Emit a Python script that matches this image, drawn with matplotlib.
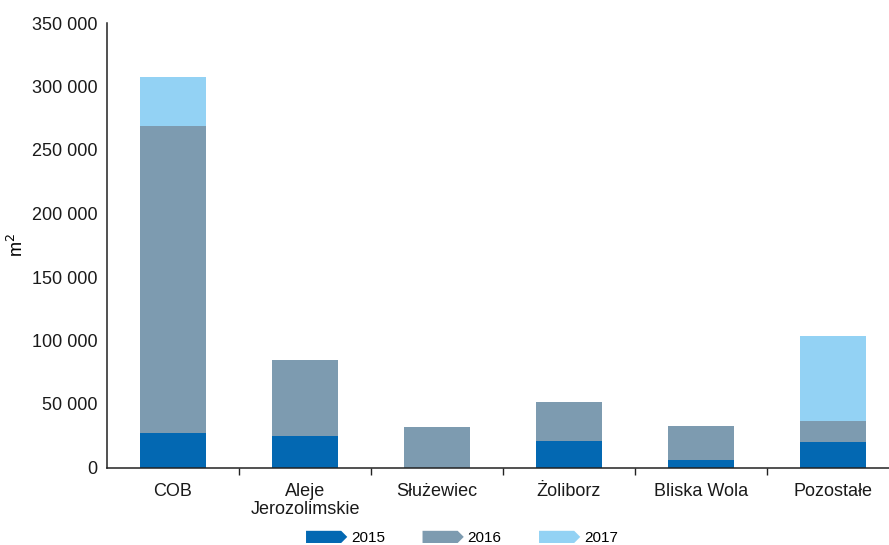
import matplotlib
matplotlib.use("Agg")
import matplotlib.pyplot as plt
import matplotlib.patches as mpatches
from matplotlib.legend_handler import HandlerPatch
from matplotlib.ticker import FuncFormatter, FixedLocator
import numpy as np

plt.rcParams['font.family'] = ['Liberation Sans', 'DejaVu Sans']

# powierzchnia biurowa wg lokalizacji (m2)
districts = ['COB', 'Aleje\nJerozolimskie', 'Służewiec', 'Żoliborz', 'Bliska Wola', 'Pozostałe']
years = ['2015', '2016', '2017']
y2015 = [27000, 24700, 0, 21000, 6000, 19900]
y2016 = [241800, 60200, 31800, 30800, 26900, 16600]
y2017 = [38400, 0, 0, 0, 0, 67000]
colors = ['#0368B2', '#7D9BB0', '#93D2F4']


class ArrowHandler(HandlerPatch):
    # strzalka w legendzie zamiast prostokata
    def create_artists(self, legend, orig_handle, xdescent, ydescent,
                       width, height, fontsize, trans):
        tip = height * 0.5
        pts = [(-xdescent, -ydescent),
               (-xdescent + width - tip, -ydescent),
               (-xdescent + width, -ydescent + height / 2),
               (-xdescent + width - tip, -ydescent + height),
               (-xdescent, -ydescent + height)]
        p = mpatches.Polygon(pts, closed=True, facecolor=orig_handle.get_facecolor(),
                             edgecolor='none', transform=trans)
        return [p]


fig = plt.figure(figsize=(8.89, 5.45), dpi=100)
ax = fig.add_axes([107 / 889, 77.5 / 545, 792 / 889, 444.5 / 545])

x = np.arange(len(districts))
bottom = np.zeros(len(districts))
for vals, col in zip([y2015, y2016, y2017], colors):
    ax.bar(x, vals, width=0.5, bottom=bottom, color=col, linewidth=0)
    bottom += np.array(vals)

ax.set_xlim(-0.5, len(districts) - 0.5)
ax.set_ylim(0, 350000)
ax.set_yticks(np.arange(0, 350001, 50000))
ax.yaxis.set_major_formatter(FuncFormatter(lambda v, p: f"{int(v):,}".replace(',', ' ')))
ax.tick_params(axis='y', length=0, pad=7, labelsize=13, colors='#1a1a1a')

ax.set_xticks(x)
ax.set_xticklabels(districts, fontsize=13, linespacing=1.1, color='#1a1a1a')
ax.tick_params(axis='x', which='major', length=0, pad=11)
ax.xaxis.set_minor_locator(FixedLocator(np.arange(0.5, len(districts) - 0.5, 1)))
ax.tick_params(axis='x', which='minor', length=5, width=1, direction='out', color='#222222')

for s in ['top', 'right']:
    ax.spines[s].set_visible(False)
for s in ['left', 'bottom']:
    ax.spines[s].set_linewidth(1.1)
    ax.spines[s].set_color('#222222')

ax.set_ylabel('m$^2$', fontsize=13, labelpad=3)

handles = [mpatches.Patch(facecolor=c) for c in colors]
fig.legend(handles, years, loc='center', bbox_to_anchor=(462 / 889, 1 - 538 / 545),
           ncol=3, frameon=False, fontsize=11, handlelength=2.7, handleheight=0.85,
           handletextpad=0.25, columnspacing=2.45,
           handler_map={mpatches.Patch: ArrowHandler()})

fig.savefig('out.png', dpi=100)
